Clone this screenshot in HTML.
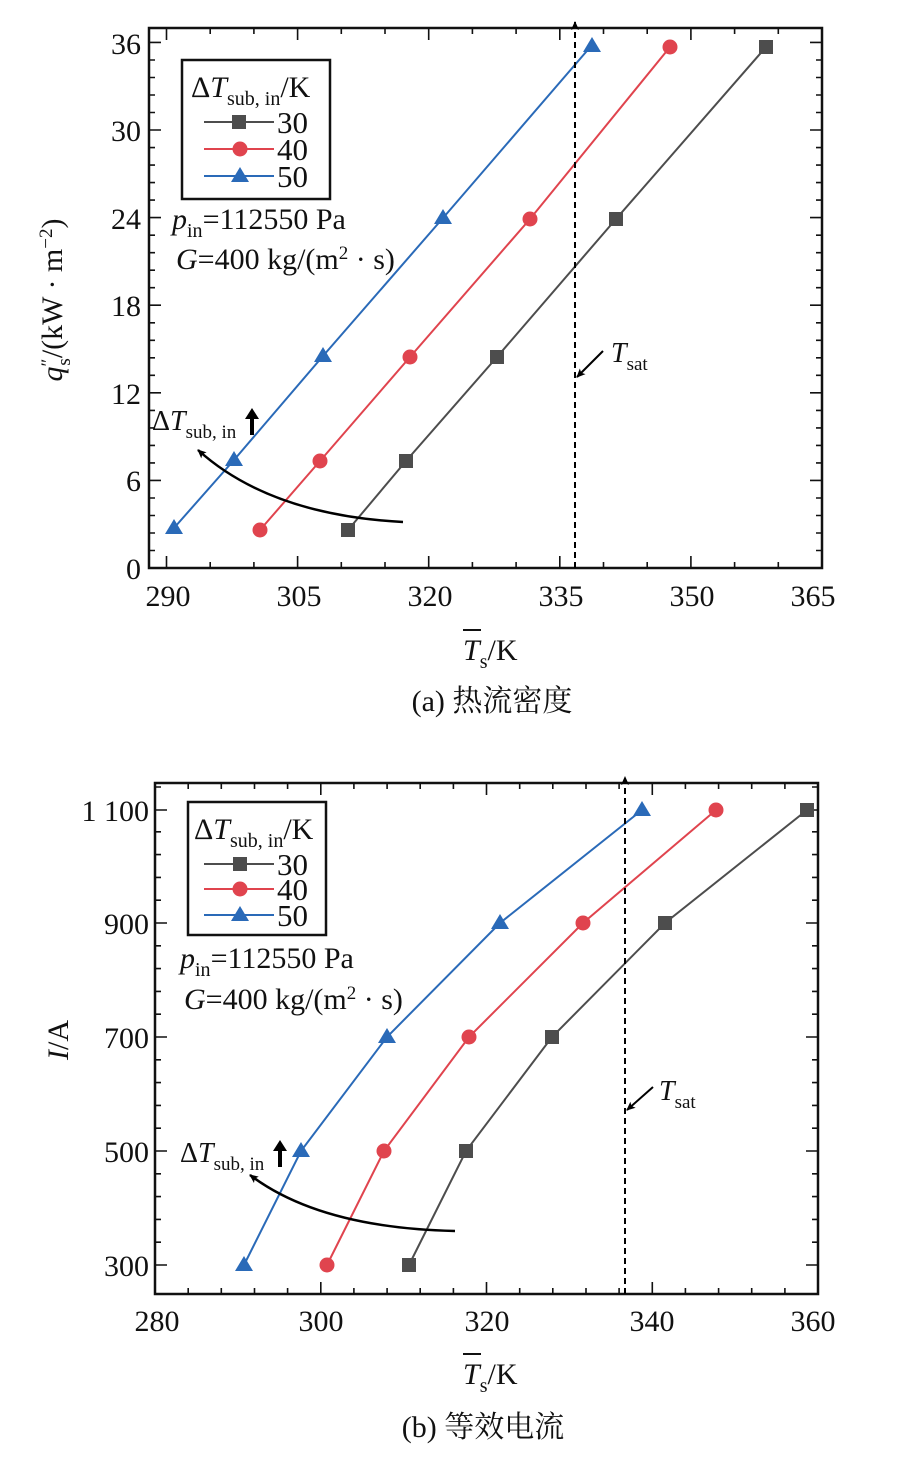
<!DOCTYPE html>
<html><head><meta charset="utf-8"><style>
body{margin:0;background:#fff}
svg{display:block}
text{font-family:"Liberation Serif","Noto Serif CJK SC",serif;fill:#111}
</style></head><body>
<svg width="903" height="1474" viewBox="0 0 903 1474" xmlns="http://www.w3.org/2000/svg">
<defs>
<marker id="ah" markerWidth="10" markerHeight="10" refX="8" refY="5" orient="auto" markerUnits="userSpaceOnUse"><path d="M0,1 L9,5 L0,9 L2,5 Z" fill="#000"/></marker>
</defs>
<!-- ===== TOP PLOT ===== -->
<rect x="149" y="28" width="673" height="540" fill="none" stroke="#111" stroke-width="2.5"/>
<g stroke="#111" stroke-width="1.6">
<path d="M166.5,568v-12M297.6,568v-12M428.7,568v-12M559.8,568v-12M690.9,568v-12M822,568v-12
M166.5,28v12M297.6,28v12M428.7,28v12M559.8,28v12M690.9,28v12
M210.2,568v-6M253.9,568v-6M341.3,568v-6M385,568v-6M472.4,568v-6M516.1,568v-6M603.5,568v-6M647.2,568v-6M734.6,568v-6M778.3,568v-6
M210.2,28v6M253.9,28v6M341.3,28v6M385,28v6M472.4,28v6M516.1,28v6M603.5,28v6M647.2,28v6M734.6,28v6M778.3,28v6"/>
<path d="M149,568h12M149,480.4h12M149,392.8h12M149,305.2h12M149,217.6h12M149,130h12M149,42.4h12
M822,480.4h-12M822,392.8h-12M822,305.2h-12M822,217.6h-12M822,130h-12M822,42.4h-12
M149,550.5h6M149,533h6M149,515.5h6M149,498h6M149,462.9h6M149,445.4h6M149,427.9h6M149,410.4h6M149,375.3h6M149,357.8h6M149,340.3h6M149,322.8h6M149,287.7h6M149,270.2h6M149,252.7h6M149,235.2h6M149,200.1h6M149,182.6h6M149,165.1h6M149,147.6h6M149,112.5h6M149,95h6M149,77.5h6M149,60h6
M822,550.5h-6M822,533h-6M822,515.5h-6M822,498h-6M822,462.9h-6M822,445.4h-6M822,427.9h-6M822,410.4h-6M822,375.3h-6M822,357.8h-6M822,340.3h-6M822,322.8h-6M822,287.7h-6M822,270.2h-6M822,252.7h-6M822,235.2h-6M822,200.1h-6M822,182.6h-6M822,165.1h-6M822,147.6h-6M822,112.5h-6M822,95h-6M822,77.5h-6M822,60h-6"/>
</g>
<g font-size="30" text-anchor="middle">
<text x="168" y="606">290</text><text x="299" y="606">305</text><text x="430" y="606">320</text><text x="561" y="606">335</text><text x="692" y="606">350</text><text x="813" y="606">365</text>
</g>
<g font-size="30" text-anchor="end">
<text x="141" y="579">0</text><text x="141" y="491">6</text><text x="141" y="404">12</text><text x="141" y="316">18</text><text x="141" y="229">24</text><text x="141" y="141">30</text><text x="141" y="54">36</text>
</g>
<polyline points="174,528 234,460 323,356 443,218 592,45" fill="none" stroke="#2a6ab8" stroke-width="2"/>
<polyline points="260,530 320,461 410,357 530,219 670,47" fill="none" stroke="#e0444e" stroke-width="2"/>
<polyline points="348,530 406,461 497,357 616,219 766,47" fill="none" stroke="#4d4d4d" stroke-width="2"/>
<g fill="#2a6ab8"><path d="M174,519l9,15h-18z"/><path d="M234,451l9,15h-18z"/><path d="M323,347l9,15h-18z"/><path d="M443,209l9,15h-18z"/><path d="M592,37l9,15h-18z"/></g>
<g fill="#e0444e"><circle cx="260" cy="530" r="7.5"/><circle cx="320" cy="461" r="7.5"/><circle cx="410" cy="357" r="7.5"/><circle cx="530" cy="219" r="7.5"/><circle cx="670" cy="47" r="7.5"/></g>
<g fill="#4d4d4d"><rect x="341" y="523" width="14" height="14"/><rect x="399" y="454" width="14" height="14"/><rect x="490" y="350" width="14" height="14"/><rect x="609" y="212" width="14" height="14"/><rect x="759" y="40" width="14" height="14"/></g>
<line x1="575" y1="568" x2="575" y2="22" stroke="#000" stroke-width="2" stroke-dasharray="6,4" marker-end="url(#ah)"/>
<line x1="603" y1="351" x2="577" y2="377" stroke="#000" stroke-width="2" marker-end="url(#ah)"/>
<text x="611" y="362" font-size="28" font-style="italic">T<tspan font-size="19" font-style="normal" dy="8">sat</tspan></text>
<path d="M403,522 Q270,515 198,450" fill="none" stroke="#000" stroke-width="2.5" marker-end="url(#ah)"/>
<text x="152" y="430" font-size="28">Δ<tspan font-style="italic">T</tspan><tspan font-size="19" dy="8">sub, in</tspan></text>
<path d="M250,435v-16h-5l7,-11l7,11h-5v16z" fill="#000"/>
<rect x="182" y="60" width="148" height="139" fill="#fff" stroke="#111" stroke-width="2.5"/>
<text x="191" y="97" font-size="30">Δ<tspan font-style="italic">T</tspan><tspan font-size="20" dy="8">sub, in</tspan><tspan dy="-8">/K</tspan></text>
<line x1="204" y1="122" x2="274" y2="122" stroke="#4d4d4d" stroke-width="2"/><rect x="232" y="115" width="14" height="14" fill="#4d4d4d"/>
<line x1="204" y1="149" x2="274" y2="149" stroke="#e0444e" stroke-width="2"/><circle cx="240" cy="149" r="7.5" fill="#e0444e"/>
<line x1="204" y1="176" x2="274" y2="176" stroke="#2a6ab8" stroke-width="2"/><path d="M240,167l9,15h-18z" fill="#2a6ab8"/>
<g font-size="31"><text x="277" y="133">30</text><text x="277" y="160">40</text><text x="277" y="187">50</text></g>
<text x="172" y="229" font-size="30"><tspan font-style="italic">p</tspan><tspan font-size="20" dy="8">in</tspan><tspan dy="-8">=112550 Pa</tspan></text>
<text x="176" y="269" font-size="30"><tspan font-style="italic">G</tspan>=400 kg/(m<tspan font-size="19" dy="-10">2</tspan><tspan dy="10"> · s)</tspan></text>
<text transform="translate(62,300) rotate(-90)" font-size="30" text-anchor="middle"><tspan font-style="italic">q</tspan><tspan font-size="19" dy="-8">″</tspan><tspan font-size="19" dy="16" dx="-7">s</tspan><tspan dy="-8">/(kW · m</tspan><tspan font-size="19" dy="-10">−2</tspan><tspan dy="10">)</tspan></text>
<text x="463" y="660" font-size="30"><tspan font-style="italic">T</tspan><tspan font-size="20" dy="8">s</tspan><tspan dy="-8">/K</tspan></text>
<line x1="463" y1="630" x2="481" y2="630" stroke="#111" stroke-width="2"/>
<text x="492" y="711" font-size="30" text-anchor="middle">(a) 热流密度</text>

<!-- ===== BOTTOM PLOT ===== -->
<rect x="155" y="783" width="663" height="511" fill="none" stroke="#111" stroke-width="2.5"/>
<g stroke="#111" stroke-width="1.6">
<path d="M155,1294v-12M320.8,1294v-12M486.5,1294v-12M652.3,1294v-12M818,1294v-12
M320.8,783v12M486.5,783v12M652.3,783v12
M188.2,1294v-6M221.3,1294v-6M254.5,1294v-6M287.6,1294v-6M353.9,1294v-6M387.1,1294v-6M420.2,1294v-6M453.4,1294v-6M519.7,1294v-6M552.8,1294v-6M586,1294v-6M619.1,1294v-6M685.4,1294v-6M718.6,1294v-6M751.7,1294v-6M784.9,1294v-6
M188.2,783v6M221.3,783v6M254.5,783v6M287.6,783v6M353.9,783v6M387.1,783v6M420.2,783v6M453.4,783v6M519.7,783v6M552.8,783v6M586,783v6M619.1,783v6M685.4,783v6M718.6,783v6M751.7,783v6M784.9,783v6"/>
<path d="M155,1265h12M155,1151h12M155,1037h12M155,923h12M155,810h12
M818,1265h-12M818,1151h-12M818,1037h-12M818,923h-12M818,810h-12
M155,1242.2h6M155,1219.4h6M155,1196.6h6M155,1173.8h6M155,1128.2h6M155,1105.4h6M155,1082.6h6M155,1059.8h6M155,1014.2h6M155,991.4h6M155,968.6h6M155,945.8h6M155,900.2h6M155,877.4h6M155,854.6h6M155,831.8h6M155,787h6
M818,1242.2h-6M818,1219.4h-6M818,1196.6h-6M818,1173.8h-6M818,1128.2h-6M818,1105.4h-6M818,1082.6h-6M818,1059.8h-6M818,1014.2h-6M818,991.4h-6M818,968.6h-6M818,945.8h-6M818,900.2h-6M818,877.4h-6M818,854.6h-6M818,831.8h-6M818,787h-6"/>
</g>
<g font-size="30" text-anchor="middle">
<text x="157" y="1331">280</text><text x="321" y="1331">300</text><text x="487" y="1331">320</text><text x="652" y="1331">340</text><text x="813" y="1331">360</text>
</g>
<g font-size="30" text-anchor="end">
<text x="149" y="1276">300</text><text x="149" y="1162">500</text><text x="149" y="1048">700</text><text x="149" y="934">900</text><text x="149" y="821">1 100</text>
</g>
<polyline points="244,1265 301,1151 387,1037 500,923 642,810" fill="none" stroke="#2a6ab8" stroke-width="2"/>
<polyline points="327,1265 384,1151 469,1037 583,923 716,810" fill="none" stroke="#e0444e" stroke-width="2"/>
<polyline points="409,1265 466,1151 552,1037 665,923 807,810" fill="none" stroke="#4d4d4d" stroke-width="2"/>
<g fill="#2a6ab8"><path d="M244,1256l9,15h-18z"/><path d="M301,1142l9,15h-18z"/><path d="M387,1028l9,15h-18z"/><path d="M500,914l9,15h-18z"/><path d="M642,801l9,15h-18z"/></g>
<g fill="#e0444e"><circle cx="327" cy="1265" r="7.5"/><circle cx="384" cy="1151" r="7.5"/><circle cx="469" cy="1037" r="7.5"/><circle cx="583" cy="923" r="7.5"/><circle cx="716" cy="810" r="7.5"/></g>
<g fill="#4d4d4d"><rect x="402" y="1258" width="14" height="14"/><rect x="459" y="1144" width="14" height="14"/><rect x="545" y="1030" width="14" height="14"/><rect x="658" y="916" width="14" height="14"/><rect x="800" y="803" width="14" height="14"/></g>
<line x1="625" y1="1294" x2="625" y2="777" stroke="#000" stroke-width="2" stroke-dasharray="6,4" marker-end="url(#ah)"/>
<line x1="653" y1="1087" x2="627" y2="1110" stroke="#000" stroke-width="2" marker-end="url(#ah)"/>
<text x="659" y="1100" font-size="28" font-style="italic">T<tspan font-size="19" font-style="normal" dy="8">sat</tspan></text>
<path d="M455,1231 Q320,1228 250,1175" fill="none" stroke="#000" stroke-width="2.5" marker-end="url(#ah)"/>
<text x="180" y="1162" font-size="28">Δ<tspan font-style="italic">T</tspan><tspan font-size="19" dy="8">sub, in</tspan></text>
<path d="M278,1167v-16h-5l7,-11l7,11h-5v16z" fill="#000"/>
<rect x="188" y="802" width="138" height="133" fill="#fff" stroke="#111" stroke-width="2.5"/>
<text x="194" y="839" font-size="30">Δ<tspan font-style="italic">T</tspan><tspan font-size="20" dy="8">sub, in</tspan><tspan dy="-8">/K</tspan></text>
<line x1="204" y1="864" x2="274" y2="864" stroke="#4d4d4d" stroke-width="2"/><rect x="233" y="857" width="14" height="14" fill="#4d4d4d"/>
<line x1="204" y1="889" x2="274" y2="889" stroke="#e0444e" stroke-width="2"/><circle cx="240" cy="889" r="7.5" fill="#e0444e"/>
<line x1="204" y1="915" x2="274" y2="915" stroke="#2a6ab8" stroke-width="2"/><path d="M240,906l9,15h-18z" fill="#2a6ab8"/>
<g font-size="31"><text x="277" y="875">30</text><text x="277" y="900">40</text><text x="277" y="926">50</text></g>
<text x="180" y="968" font-size="30"><tspan font-style="italic">p</tspan><tspan font-size="20" dy="8">in</tspan><tspan dy="-8">=112550 Pa</tspan></text>
<text x="184" y="1009" font-size="30"><tspan font-style="italic">G</tspan>=400 kg/(m<tspan font-size="19" dy="-10">2</tspan><tspan dy="10"> · s)</tspan></text>
<text transform="translate(68,1040) rotate(-90)" font-size="30" text-anchor="middle"><tspan font-style="italic">I</tspan>/A</text>
<text x="463" y="1384" font-size="30"><tspan font-style="italic">T</tspan><tspan font-size="20" dy="8">s</tspan><tspan dy="-8">/K</tspan></text>
<line x1="463" y1="1354" x2="481" y2="1354" stroke="#111" stroke-width="2"/>
<text x="483" y="1437" font-size="30" text-anchor="middle">(b) 等效电流</text>
</svg>
</body></html>
